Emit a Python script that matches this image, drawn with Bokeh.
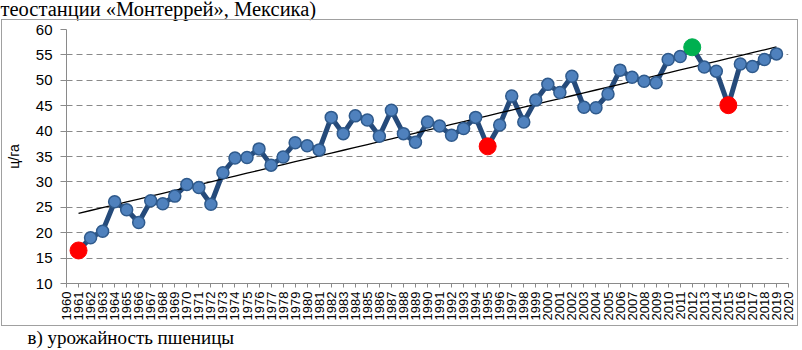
import numpy as np
from math import pi
from bokeh.plotting import figure
from bokeh.models import FixedTicker, ColumnDataSource, Range1d, Title, InlineStyleSheet
from bokeh.embed import file_html
from bokeh.resources import INLINE

years = list(range(1961, 2020))
yields = [16.5, 19.0, 20.3, 26.1, 24.5, 22.0, 26.3, 25.7, 27.2, 29.5,
          28.9, 25.6, 31.8, 34.7, 34.8, 36.5, 33.3, 34.9, 37.7, 37.1,
          36.3, 42.7, 39.5, 43.0, 42.2, 39.0, 44.1, 39.5, 37.8, 41.8,
          41.0, 39.2, 40.5, 42.7, 37.0, 41.2, 46.9, 41.8, 46.1, 49.2,
          47.6, 50.8, 44.7, 44.6, 47.3, 52.0, 50.6, 49.8, 49.5, 54.1,
          54.7, 56.5, 52.6, 51.8, 45.1, 53.2, 52.7, 54.1, 55.2]
low_years = [1961, 1995, 2015]
high_years = [2012]
x_ticks = list(range(1960, 2021))
y_ticks = list(range(10, 61, 5))
title_text = "теостанции «Монтеррей», Мексика)"
caption_text = "в) урожайность пшеницы"
y_label = "ц/га"

SHIFT = 17                          # top strip of the canvas hidden above the page (title line is cut)
W, H = 802, 350 + SHIFT
FL, FT, FR, FB = 66, 29 + SHIFT, 788, 283 + SHIFT   # plot frame edges in canvas px
p = figure(width=W, height=H, output_backend="svg", toolbar_location=None,
           x_range=Range1d(1960, 2020), y_range=Range1d(10, 60),
           min_border_left=FL, min_border_right=W - FR, min_border_top=FT,
           min_border_bottom=H - FB)
p.outline_line_color = None
p.background_fill_color = "white"
p.border_fill_color = "white"

# outer gray frame around the chart area (drawn with CSS on the plot element)
p.stylesheets = [InlineStyleSheet(css=(
    ":host { position: relative; margin-top: -%dpx; } "
    ":host::after { content: ''; position: absolute; left: 1px; top: %dpx; "
    "width: 797px; height: 307px; box-sizing: border-box; "
    "border: 1px solid #a0a0a0; pointer-events: none; }") % (SHIFT, 19 + SHIFT))]

p.title = Title(text=title_text, align="left", offset=-FL, standoff=FT - 27,
                text_font="Liberation Serif", text_font_size="20.5px",
                text_font_style="normal", text_color="black")
p.add_layout(Title(text=caption_text, align="left", offset=27 - FL, standoff=3,
                   text_font="Liberation Serif", text_font_size="19px",
                   text_font_style="normal", text_color="black"), "below")

p.xgrid.grid_line_color = None
p.ygrid.grid_line_color = "#8a8a8a"
p.ygrid.grid_line_dash = "6 4"
p.ygrid.grid_line_width = 1

for ax in (p.xaxis[0], p.yaxis[0]):
    ax.axis_line_color = "#8a8a8a"
    ax.major_tick_line_color = "#8a8a8a"
    ax.minor_tick_line_color = None
    ax.major_tick_in = 0
    ax.major_label_text_font = "Liberation Sans"
    ax.major_label_text_color = "black"

p.xaxis.ticker = FixedTicker(ticks=x_ticks)
p.xaxis.major_label_orientation = pi / 2
p.xaxis.major_tick_out = 4
p.xaxis.major_label_standoff = 4
p.xaxis.major_label_text_font_size = "13px"

p.yaxis.ticker = FixedTicker(ticks=y_ticks)
p.yaxis.major_tick_out = 6
p.yaxis.major_label_standoff = 8
p.yaxis.major_label_text_font_size = "15px"
p.yaxis.axis_label = y_label
p.yaxis.axis_label_text_font = "Liberation Sans"
p.yaxis.axis_label_text_font_size = "14px"
p.yaxis.axis_label_text_font_style = "normal"
p.yaxis.axis_label_text_color = "black"
p.yaxis.axis_label_standoff = 11

# trend line (least squares)
coef = np.polyfit(years, yields, 1)
trend = [coef[0] * y + coef[1] for y in years]

src = ColumnDataSource(dict(x=years, y=yields, t=trend))
p.line("x", "y", source=src, line_color="#254a7a", line_width=5)
p.line("x", "t", source=src, line_color="black", line_width=1.3)
p.scatter("x", "y", source=src, size=12, fill_color="#4f81bd", line_color="#2f5a8c", line_width=1.5)

lx = [y for y in low_years]
ly = [yields[years.index(y)] for y in low_years]
hx = [y for y in high_years]
hy = [yields[years.index(y)] for y in high_years]
p.scatter(lx, ly, size=17, fill_color="#ff0000", line_color="#ff0000")
p.scatter(hx, hy, size=17, fill_color="#00b050", line_color="#00b050")

open("out.html", "w").write(file_html(p, INLINE))
